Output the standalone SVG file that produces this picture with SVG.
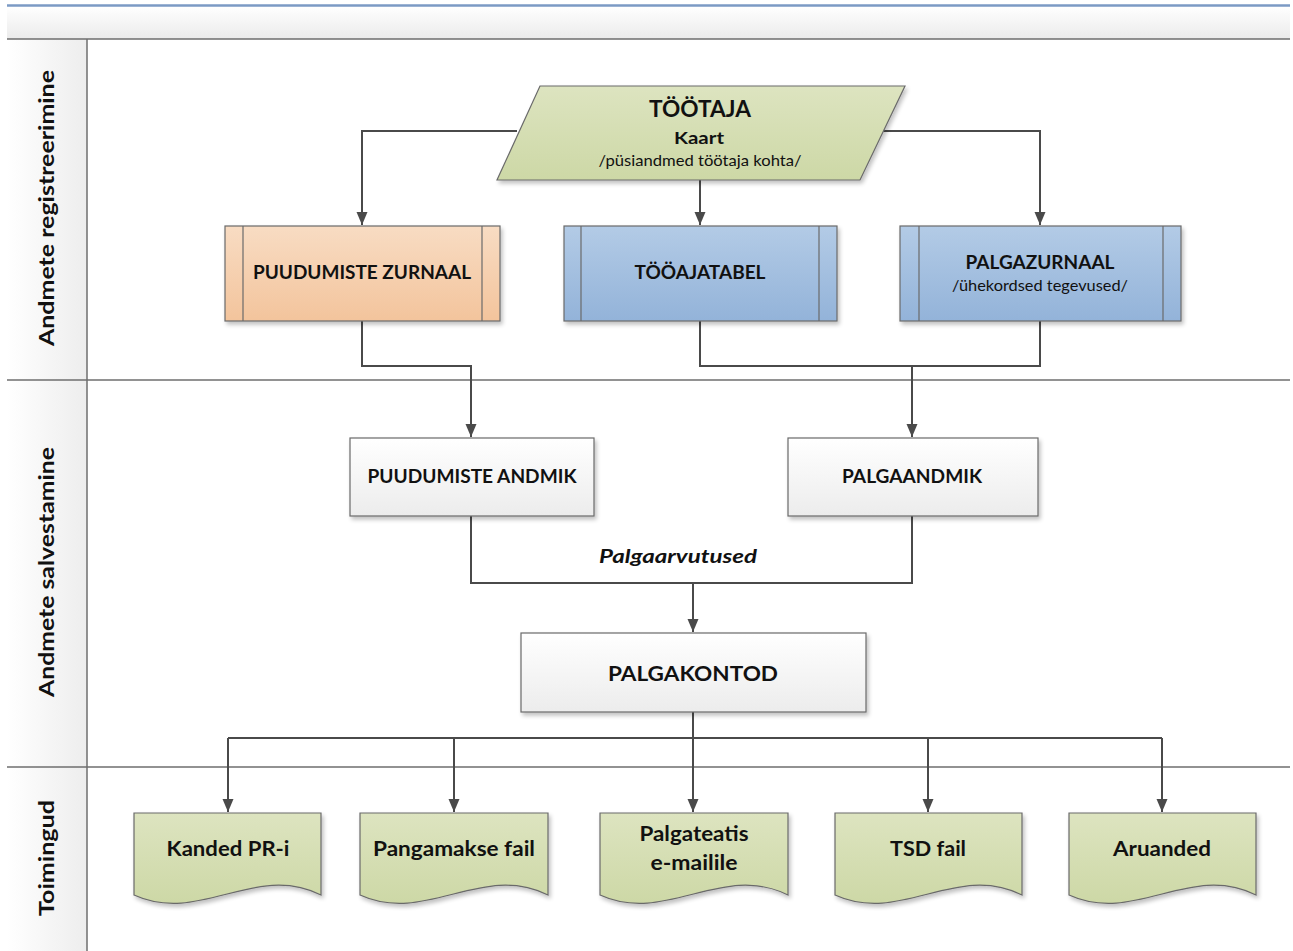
<svg xmlns="http://www.w3.org/2000/svg" width="1293" height="951" viewBox="0 0 1293 951">
<defs>
<linearGradient id="gHead" x1="0" y1="0" x2="0" y2="1"><stop offset="0" stop-color="#ffffff"/><stop offset="1" stop-color="#ebebeb"/></linearGradient>
<linearGradient id="gLane" x1="0" y1="0" x2="1" y2="0"><stop offset="0" stop-color="#ffffff"/><stop offset="1" stop-color="#ededed"/></linearGradient>
<linearGradient id="gGreen" x1="0" y1="0" x2="0" y2="1"><stop offset="0" stop-color="#dde4c0"/><stop offset="1" stop-color="#cdd8a6"/></linearGradient>
<linearGradient id="gOrange" x1="0" y1="0" x2="0" y2="1"><stop offset="0" stop-color="#f8dcc3"/><stop offset="1" stop-color="#f3c49c"/></linearGradient>
<linearGradient id="gBlue" x1="0" y1="0" x2="0" y2="1"><stop offset="0" stop-color="#b3cbe6"/><stop offset="1" stop-color="#93b3d9"/></linearGradient>
<linearGradient id="gWhite" x1="0" y1="0" x2="0" y2="1"><stop offset="0" stop-color="#ffffff"/><stop offset="1" stop-color="#ececec"/></linearGradient>
<filter id="sh" x="-10%" y="-10%" width="130%" height="140%"><feGaussianBlur in="SourceAlpha" stdDeviation="2"/><feOffset dx="2" dy="3"/><feComponentTransfer><feFuncA type="linear" slope="0.25"/></feComponentTransfer><feMerge><feMergeNode/><feMergeNode in="SourceGraphic"/></feMerge></filter>
<marker id="arr" markerUnits="userSpaceOnUse" markerWidth="14" markerHeight="14" viewBox="0 0 14 14" refX="13" refY="7" orient="auto"><path d="M0,1.5 L13,7 L0,12.5 Z" fill="#4a4a4a"/></marker>
<style>
.lane{stroke:#6e6e6e;stroke-width:1.5;fill:none}
.node{stroke:#6a6a6a;stroke-width:1.2}
.inner{stroke:#6a6a6a;stroke-width:1.2;fill:none}
.con{stroke:#4a4a4a;stroke-width:2;fill:none}
.t{font-family:Lato,"Open Sans","Liberation Sans",sans-serif;font-weight:bold;fill:#111;text-anchor:middle;dominant-baseline:central}
.r{font-weight:normal}
.lbl{font-family:Lato,"Open Sans","Liberation Sans",sans-serif;font-weight:bold;font-size:20px;fill:#111;text-anchor:middle;dominant-baseline:central}
</style>
</defs>
<rect width="1293" height="951" fill="#ffffff"/>
<g id="lanes">
<rect x="7" y="6" width="1283" height="33" fill="url(#gHead)"/>
<line x1="7" y1="5.5" x2="1290" y2="5.5" stroke="#7b9ac4" stroke-width="2.5"/>
<rect x="7" y="39" width="80" height="912" fill="url(#gLane)"/>
<line class="lane" x1="7" y1="39" x2="1290" y2="39"/>
<line class="lane" x1="7" y1="380" x2="1290" y2="380"/>
<line class="lane" x1="7" y1="767" x2="1290" y2="767"/>
<line class="lane" x1="87" y1="39" x2="87" y2="951"/>
<text class="lbl" transform="translate(46,208) rotate(-90)" textLength="276" lengthAdjust="spacingAndGlyphs">Andmete registreerimine</text>
<text class="lbl" transform="translate(46,572) rotate(-90)" textLength="250" lengthAdjust="spacingAndGlyphs">Andmete salvestamine</text>
<text class="lbl" transform="translate(46,858) rotate(-90)" textLength="116" lengthAdjust="spacingAndGlyphs">Toimingud</text>
</g>
<g id="connectors">
<path class="con" d="M517,131 H362 V225" marker-end="url(#arr)"/>
<path class="con" d="M882,131 H1040 V225" marker-end="url(#arr)"/>
<path class="con" d="M700,180 V225" marker-end="url(#arr)"/>
<path class="con" d="M362,321 V366 H471 V437" marker-end="url(#arr)"/>
<path class="con" d="M700,321 V366 H1040 V321"/>
<path class="con" d="M912,366 V437" marker-end="url(#arr)"/>
<path class="con" d="M471,516 V583 H912 V516"/>
<path class="con" d="M693,583 V632" marker-end="url(#arr)"/>
<path class="con" d="M693,712 V738"/>
<path class="con" d="M228,738 H1162"/>
<path class="con" d="M228,738 V812" marker-end="url(#arr)"/>
<path class="con" d="M454,738 V812" marker-end="url(#arr)"/>
<path class="con" d="M693,738 V812" marker-end="url(#arr)"/>
<path class="con" d="M928,738 V812" marker-end="url(#arr)"/>
<path class="con" d="M1162,738 V812" marker-end="url(#arr)"/>
<text class="t" x="678" y="555" font-size="19" font-style="italic" textLength="158" lengthAdjust="spacingAndGlyphs">Palgaarvutused</text>
</g>
<g id="tootaja">
<path class="node" d="M540,86 H905 L860,180 H497 Z" fill="url(#gGreen)" filter="url(#sh)"/>
<text class="t" x="700" y="108" font-size="22" textLength="102" lengthAdjust="spacingAndGlyphs">TÖÖTAJA</text>
<text class="t" x="699" y="137" font-size="17" textLength="50" lengthAdjust="spacingAndGlyphs">Kaart</text>
<text class="t r" x="700" y="160" font-size="15" textLength="203" lengthAdjust="spacingAndGlyphs">/püsiandmed töötaja kohta/</text>
</g>
<g id="puudumiste-zurnaal">
<rect class="node" x="225" y="226" width="275" height="95" fill="url(#gOrange)" filter="url(#sh)"/>
<line class="inner" x1="243" y1="226" x2="243" y2="321"/><line class="inner" x1="482" y1="226" x2="482" y2="321"/>
<text class="t" x="362" y="272" font-size="18" textLength="218" lengthAdjust="spacingAndGlyphs">PUUDUMISTE ZURNAAL</text>
</g>
<g id="tooajatabel">
<rect class="node" x="564" y="226" width="273" height="95" fill="url(#gBlue)" filter="url(#sh)"/>
<line class="inner" x1="581" y1="226" x2="581" y2="321"/><line class="inner" x1="819" y1="226" x2="819" y2="321"/>
<text class="t" x="700" y="272" font-size="18" textLength="131" lengthAdjust="spacingAndGlyphs">TÖÖAJATABEL</text>
</g>
<g id="palgazurnaal">
<rect class="node" x="900" y="226" width="281" height="95" fill="url(#gBlue)" filter="url(#sh)"/>
<line class="inner" x1="919" y1="226" x2="919" y2="321"/><line class="inner" x1="1163" y1="226" x2="1163" y2="321"/>
<text class="t" x="1040" y="262" font-size="18" textLength="149" lengthAdjust="spacingAndGlyphs">PALGAZURNAAL</text>
<text class="t r" x="1040" y="285" font-size="15" textLength="176" lengthAdjust="spacingAndGlyphs">/ühekordsed tegevused/</text>
</g>
<g id="puudumiste-andmik">
<rect class="node" x="350" y="438" width="244" height="78" fill="url(#gWhite)" filter="url(#sh)"/>
<text class="t" x="472" y="476" font-size="18" textLength="209" lengthAdjust="spacingAndGlyphs">PUUDUMISTE ANDMIK</text>
</g>
<g id="palgaandmik">
<rect class="node" x="788" y="438" width="250" height="78" fill="url(#gWhite)" filter="url(#sh)"/>
<text class="t" x="912" y="476" font-size="18" textLength="140" lengthAdjust="spacingAndGlyphs">PALGAANDMIK</text>
</g>
<g id="palgakontod">
<rect class="node" x="521" y="633" width="345" height="79" fill="url(#gWhite)" filter="url(#sh)"/>
<text class="t" x="693" y="672" font-size="21" textLength="170" lengthAdjust="spacingAndGlyphs">PALGAKONTOD</text>
</g>
<g id="kanded">
<path class="node" d="M134,813 H321 V895 C255,862 200,925 134,895 Z" fill="url(#gGreen)" filter="url(#sh)"/>
<text class="t" x="228" y="848" font-size="20" textLength="123" lengthAdjust="spacingAndGlyphs">Kanded PR-i</text>
</g>
<g id="pangamakse">
<path class="node" d="M360,813 H548 V895 C482,862 426,925 360,895 Z" fill="url(#gGreen)" filter="url(#sh)"/>
<text class="t" x="454" y="848" font-size="20" textLength="162" lengthAdjust="spacingAndGlyphs">Pangamakse fail</text>
</g>
<g id="palgateatis">
<path class="node" d="M600,813 H788 V895 C722,862 666,925 600,895 Z" fill="url(#gGreen)" filter="url(#sh)"/>
<text class="t" x="694" y="833" font-size="20" textLength="109" lengthAdjust="spacingAndGlyphs">Palgateatis</text>
<text class="t" x="694" y="862" font-size="20" textLength="87" lengthAdjust="spacingAndGlyphs">e-mailile</text>
</g>
<g id="tsd">
<path class="node" d="M835,813 H1022 V895 C956,862 901,925 835,895 Z" fill="url(#gGreen)" filter="url(#sh)"/>
<text class="t" x="928" y="848" font-size="20" textLength="76" lengthAdjust="spacingAndGlyphs">TSD fail</text>
</g>
<g id="aruanded">
<path class="node" d="M1069,813 H1256 V895 C1190,862 1135,925 1069,895 Z" fill="url(#gGreen)" filter="url(#sh)"/>
<text class="t" x="1162" y="848" font-size="20" textLength="98" lengthAdjust="spacingAndGlyphs">Aruanded</text>
</g>
</svg>
